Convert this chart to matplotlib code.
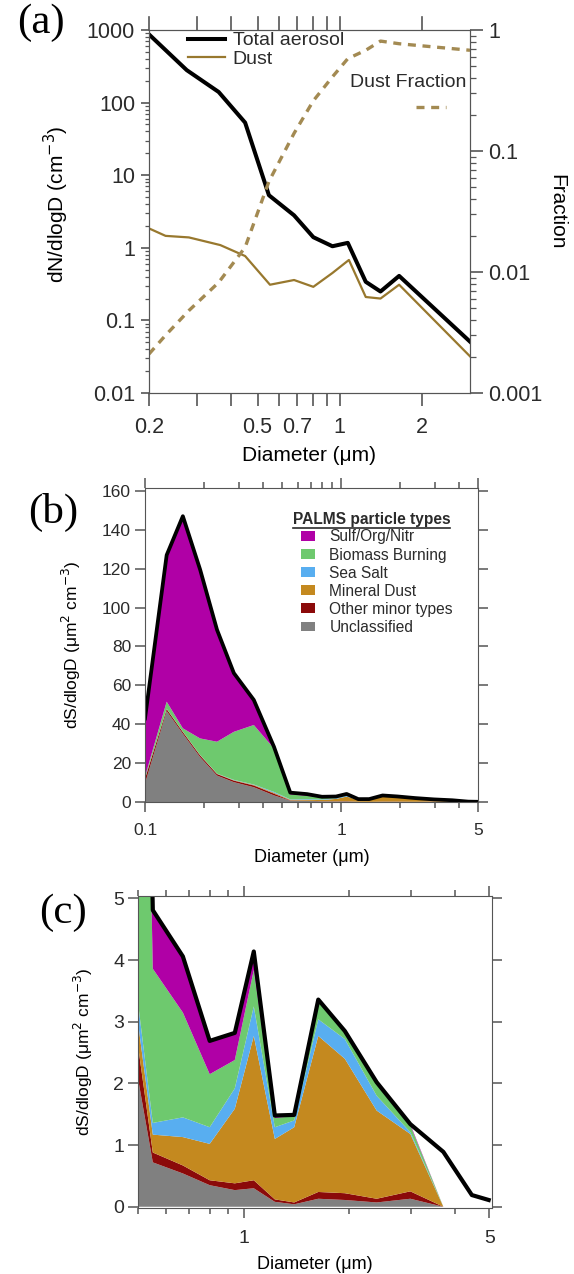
import matplotlib
matplotlib.use("Agg")
import matplotlib.pyplot as plt
from matplotlib.ticker import FixedLocator, FuncFormatter, LogLocator, NullLocator, NullFormatter
from matplotlib.patches import Patch
from matplotlib.lines import Line2D
from matplotlib.transforms import blended_transform_factory

plt.rcParams['font.family'] = ['Liberation Sans', 'DejaVu Sans']
plt.rcParams['axes.edgecolor'] = '#555555'
plt.rcParams['xtick.color'] = '#555555'
plt.rcParams['ytick.color'] = '#555555'
plt.rcParams['xtick.labelcolor'] = '#2b2b2b'
plt.rcParams['ytick.labelcolor'] = '#2b2b2b'
plt.rcParams['text.color'] = '#2b2b2b'

# ---- panel (a): number size distributions ----
d_total = [0.2, 0.275, 0.36, 0.45, 0.55, 0.68, 0.80, 0.94, 1.07, 1.245, 1.41, 1.65, 3.0]
n_total = [870, 280, 140, 53, 5.3, 2.8, 1.4, 1.05, 1.17, 0.34, 0.25, 0.41, 0.051]

d_dust = [0.2, 0.23, 0.28, 0.365, 0.45, 0.555, 0.68, 0.80, 0.94, 1.08, 1.245, 1.41, 1.65, 3.0]
n_dust = [1.85, 1.46, 1.39, 1.09, 0.77, 0.31, 0.36, 0.29, 0.45, 0.68, 0.21, 0.20, 0.31, 0.032]

d_frac = [0.2, 0.23, 0.28, 0.36, 0.45, 0.55, 0.68, 0.80, 0.94, 1.07, 1.245, 1.41, 1.65, 3.0]
dust_frac = [0.0021, 0.003, 0.0048, 0.0082, 0.016, 0.056, 0.14, 0.26, 0.41, 0.58, 0.68, 0.81, 0.77, 0.68]

# ---- panels (b), (c): surface area by particle type ----
diam = [0.10, 0.129, 0.156, 0.191, 0.233, 0.284, 0.359, 0.455, 0.551, 0.671, 0.80,
        0.943, 1.068, 1.226, 1.392, 1.63, 1.94, 2.39, 2.98, 3.70, 4.46, 4.98]
unclassified = [9.5, 46.8, 35.1, 23.1, 13.6, 10.2, 7.6, 3.4, 0.72, 0.54, 0.35,
                0.27, 0.30, 0.08, 0.04, 0.13, 0.11, 0.07, 0.13, 0, 0, 0]
other_minor = [2.5, 1.0, 0.9, 0.9, 0.8, 0.8, 0.9, 0.9, 0.16, 0.13, 0.08,
               0.11, 0.13, 0.04, 0.03, 0.11, 0.11, 0.06, 0.12, 0, 0, 0]
mineral_dust = [0.1, 0.1, 0.1, 0.1, 0.1, 0.2, 0.3, 0.45, 0.29, 0.46, 0.59,
                1.21, 2.34, 0.98, 1.22, 2.53, 2.18, 1.43, 0.93, 0, 0, 0]
sea_salt = [0.1, 0.1, 0.1, 0.1, 0.1, 0.2, 0.2, 0.45, 0.19, 0.32, 0.27,
            0.33, 0.48, 0.19, 0.11, 0.27, 0.32, 0.24, 0.03, 0, 0, 0]
biomass = [0.8, 3.6, 1.7, 8.5, 16.4, 24.7, 30.6, 22.3, 2.50, 1.70, 0.86,
           0.46, 0.59, 0.15, 0.07, 0.32, 0.14, 0.19, 0.11, 0, 0, 0]
sulf_org_nitr = [30.0, 75.4, 109.1, 86.9, 57.6, 30.2, 12.9, 0.9, 0.96, 0.92, 0.54,
                 0.45, 0.30, 0.05, 0.02, 0.0, 0.0, 0.03, 0.02, 0, 0, 0]
total_area = [43, 127, 147, 119.6, 88.6, 66.3, 52.5, 28.4, 4.81, 4.06, 2.69,
              2.82, 4.14, 1.48, 1.49, 3.36, 2.85, 2.02, 1.34, 0.89, 0.19, 0.11]

type_names = ['Sulf/Org/Nitr', 'Biomass Burning', 'Sea Salt', 'Mineral Dust',
              'Other minor types', 'Unclassified']
type_colors = ['#b000a6', '#6ec96e', '#58aef0', '#c4891f', '#8b0a0a', '#808080']

W, H = 574, 1274
fig = plt.figure(figsize=(W / 100, H / 100), dpi=100)


def px_axes(left, top, right, bottom):
    return fig.add_axes([left / W, 1 - bottom / H, (right - left) / W, (bottom - top) / H])


def plain(v, pos):
    return '%g' % v


# ================= (a) =================
ax = px_axes(149, 30, 470, 393)
ax.plot(d_total, n_total, color='black', lw=2.9, label='Total aerosol')
ax.plot(d_dust, n_dust, color='#98782e', lw=1.6, label='Dust')
ax.set_xscale('log')
ax.set_yscale('log')
ax.set_xlim(0.2, 3.0)
ax.set_ylim(0.01, 1000)
ax.legend(loc='upper left', bbox_to_anchor=(0.121, 0.995), frameon=False, fontsize=14,
          handlelength=1.9, handletextpad=0.4, labelspacing=0.05, borderpad=0,
          borderaxespad=0)

ax2 = ax.twinx()
ax2.plot(d_frac, dust_frac, color='#a38a52', lw=2.4, dashes=(2.4, 2.0))
ax2.set_yscale('log')
ax2.set_ylim(0.001, 1)
ax2.yaxis.set_major_locator(LogLocator(base=10))
ax2.yaxis.set_minor_locator(LogLocator(base=10, subs=range(2, 10)))
ax2.yaxis.set_major_formatter(FuncFormatter(plain))
ax2.yaxis.set_minor_formatter(NullFormatter())
ax2.tick_params(axis='y', which='major', direction='out', length=9, width=1.2, labelsize=15.5, pad=4)
ax2.tick_params(axis='y', which='minor', direction='out', length=4, width=0.9)
ax2.set_ylabel('Fraction', fontsize=15, rotation=270, va='center', ha='center')
ax2.yaxis.set_label_coords(1.27, 0.5)
ax2.text(0.625, 0.854, 'Dust Fraction', transform=ax2.transAxes, fontsize=14,
         ha='left', va='center')
ax2.add_line(Line2D([0.832, 0.925], [0.789, 0.789], transform=ax2.transAxes,
                    color='#a38a52', lw=2.4, dashes=(2.4, 2.0)))

xt = [0.2, 0.3, 0.4, 0.5, 0.6, 0.7, 0.8, 0.9, 1, 2]
xl = {0.2: '0.2', 0.5: '0.5', 0.7: '0.7', 1: '1', 2: '2'}
ax.xaxis.set_major_locator(FixedLocator(xt))
ax.xaxis.set_major_formatter(FuncFormatter(lambda v, p: xl.get(round(v, 2), '')))
ax.xaxis.set_minor_locator(NullLocator())
ax.yaxis.set_major_locator(LogLocator(base=10))
ax.yaxis.set_minor_locator(LogLocator(base=10, subs=range(2, 10)))
ax.yaxis.set_major_formatter(FuncFormatter(plain))
ax.yaxis.set_minor_formatter(NullFormatter())
ax.tick_params(axis='x', which='major', direction='out', length=9, width=1.2,
               labelsize=15.5, pad=8)
ax.tick_params(axis='y', which='major', direction='out', length=6, width=1.2, labelsize=15.5, pad=4)
ax.tick_params(axis='y', which='minor', direction='out', length=3, width=0.9)
ax.set_xlabel('Diameter (μm)', fontsize=15, labelpad=6)
ax.set_ylabel('dN/dlogD (cm$^{-3}$)', fontsize=15, va='center')
ax.yaxis.set_label_coords(-0.29, 0.52)

# top tick marks of panel (a), drawn as short lines above the frame
top_tf = blended_transform_factory(ax.transData, ax.transAxes)
for t in xt:
    ax2.add_line(Line2D([t, t], [1.0, 1.035], transform=top_tf, color='#555555',
                        lw=1.2, clip_on=False, zorder=5))

fig.text(41 / W, 1 - 23 / H, '(a)', family='Liberation Serif', fontsize=31,
         ha='center', va='center', color='black')


# ================= (b) and (c) =================
def area_panel(axp, lw):
    axp.stackplot(diam, unclassified, other_minor, mineral_dust, sea_salt, biomass,
                  sulf_org_nitr, colors=type_colors[::-1], linewidth=0)
    axp.plot(diam, total_area, color='black', lw=lw, solid_joinstyle='round')
    axp.set_xscale('log')
    axp.tick_params(which='both', direction='out', top=True, right=True, width=1.1)
    axp.tick_params(which='major', length=7)
    axp.tick_params(which='minor', length=4)


axb = px_axes(145, 488, 478, 802)
area_panel(axb, 2.7)
axb.set_xlim(0.1, 5)
axb.set_ylim(0, 161.5)
axb.xaxis.set_major_locator(FixedLocator([0.1, 1, 5]))
axb.xaxis.set_major_formatter(FuncFormatter(plain))
axb.xaxis.set_minor_locator(FixedLocator([0.2, 0.3, 0.4, 0.5, 0.6, 0.7, 0.8, 0.9, 2, 3, 4]))
axb.xaxis.set_minor_formatter(NullFormatter())
axb.yaxis.set_major_locator(FixedLocator(range(0, 161, 20)))
axb.yaxis.set_major_formatter(FuncFormatter(plain))
axb.yaxis.set_minor_locator(NullLocator())
axb.tick_params(axis='y', labelsize=12.5, pad=3)
axb.tick_params(axis='x', labelsize=12.5, pad=8)
axb.set_xlabel('Diameter (μm)', fontsize=13, labelpad=8)
axb.set_ylabel('dS/dlogD (μm$^{2}$ cm$^{-3}$)', fontsize=12.5, va='center')
axb.yaxis.set_label_coords(-0.22, 0.5)

handles = [Patch(facecolor=c, edgecolor='none') for c in type_colors]
leg = axb.legend(handles, type_names, loc='upper left', bbox_to_anchor=(0.467, 0.868),
                 frameon=False, fontsize=11.2, handlelength=0.9, handleheight=0.6,
                 handletextpad=0.95, labelspacing=0.2, borderpad=0, borderaxespad=0)
title = axb.text(0.443, 0.9, 'PALMS particle types', transform=axb.transAxes,
                 fontsize=11.2, weight='bold', ha='left', va='center')

fig.text(53 / W, 1 - 512 / H, '(b)', family='Liberation Serif', fontsize=31,
         ha='center', va='center', color='black')

axc = px_axes(138, 896, 492, 1208)
area_panel(axc, 3.0)
axc.set_xlim(0.5, 5.09)
axc.set_ylim(-0.02, 5.04)
axc.xaxis.set_major_locator(FixedLocator([1, 5]))
axc.xaxis.set_major_formatter(FuncFormatter(plain))
axc.xaxis.set_minor_locator(FixedLocator([0.5, 0.6, 0.7, 0.8, 0.9, 2, 3, 4]))
axc.xaxis.set_minor_formatter(NullFormatter())
axc.yaxis.set_major_locator(FixedLocator(range(0, 6)))
axc.yaxis.set_major_formatter(FuncFormatter(plain))
axc.yaxis.set_minor_locator(NullLocator())
axc.tick_params(axis='y', labelsize=14, pad=3)
axc.tick_params(axis='x', labelsize=14, pad=9)
axc.set_xlabel('Diameter (μm)', fontsize=13, labelpad=6)
axc.set_ylabel('dS/dlogD (μm$^{2}$ cm$^{-3}$)', fontsize=12.5, va='center')
axc.yaxis.set_label_coords(-0.155, 0.5)

fig.text(63 / W, 1 - 913 / H, '(c)', family='Liberation Serif', fontsize=31,
         ha='center', va='center', color='black')

# underline the legend title
fig.canvas.draw()
tb = title.get_window_extent()
inv = fig.transFigure.inverted()
(x0, y0), (x1, _) = inv.transform([(tb.x0, tb.y0 - 1), (tb.x1, tb.y0)])
fig.add_artist(Line2D([x0, x1], [y0, y0], transform=fig.transFigure, color='#2b2b2b', lw=1.2))

fig.savefig('out.png', dpi=100)
